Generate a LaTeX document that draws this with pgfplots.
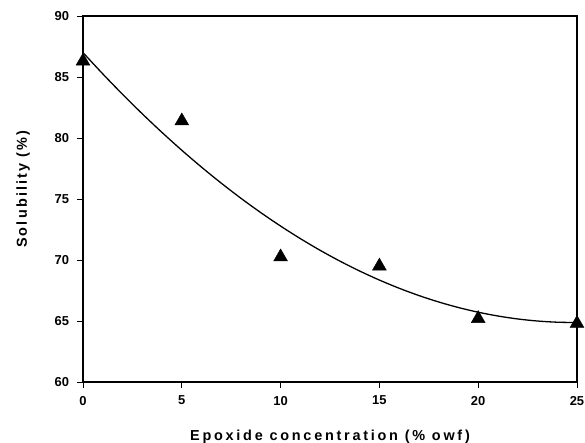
\documentclass[border=0pt]{standalone}
\usepackage{pgfplots}
\pgfplotsset{compat=1.18}
\usepackage{fontspec}
\setmainfont{Liberation Sans}
\begin{document}
\begin{tikzpicture}
\begin{axis}[
  scale only axis,
  width=494bp, height=366bp,
  xmin=0, xmax=25, ymin=60, ymax=90,
  xtick={0,5,10,15,20,25},
  ytick={60,65,70,75,80,85,90},
  tick align=outside,
  major tick length=5.5bp,
  tick style={black, line width=1pt},
  axis line style={line width=1.3pt},
  xtick pos=bottom, ytick pos=left,
  clip=false,
  /pgf/number format/assume math mode=true,
  tick label style={font=\bfseries\fontsize{13}{15}\selectfont},
  xticklabel style={yshift=-5bp},
  yticklabel style={xshift=-5bp},
  xlabel={\addfontfeatures{LetterSpace=19}Epoxide concentration (\% owf)},
  ylabel={\addfontfeatures{LetterSpace=15}Solubility (\%)},
  label style={font=\bfseries\fontsize{14.5}{16}\selectfont},
  xlabel style={at={(axis description cs:0.5,0)}, anchor=base, yshift=-58bp},
  ylabel style={at={(axis description cs:-0.1134,0.527)}, anchor=base},
]
\addplot[black, line width=1.3pt, smooth] coordinates {
(0,87.00)(1,85.256)(2,83.583)(3,81.982)(4,80.453)(5,78.995)(6,77.609)(7,76.294)(8,75.051)(9,73.880)(10,72.780)(11,71.752)(12,70.795)(13,69.910)(14,69.097)(15,68.355)(16,67.685)(17,67.086)(18,66.559)(19,66.104)(20,65.720)(21,65.408)(22,65.167)(23,64.998)(24,64.901)(25,64.875)
};
\addplot[only marks, mark=triangle*, mark size=8bp, black] coordinates {
(0,86.3)(5,81.4)(10,70.25)(15,69.5)(20,65.2)(25,64.8)
};
\end{axis}
\path (current axis.south west) ++(-83bp,-61bp) coordinate (bl);
\path (current axis.north east) ++(8bp,16bp) coordinate (tr);
\pgfresetboundingbox
\useasboundingbox (bl) rectangle (tr);
\end{tikzpicture}
\end{document}
